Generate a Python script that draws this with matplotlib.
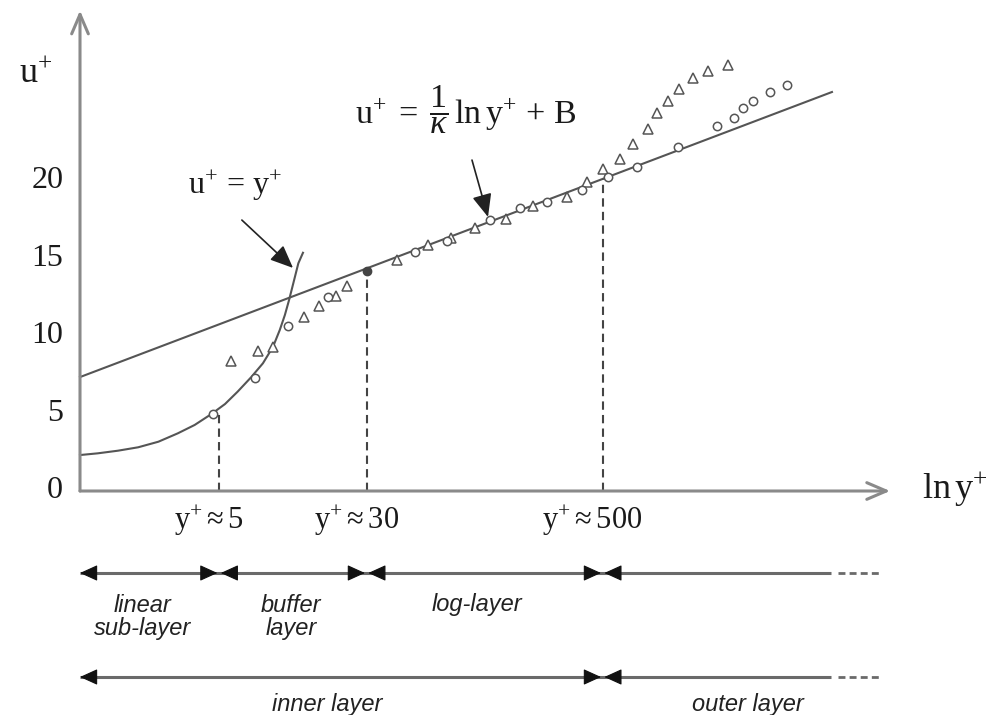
import numpy as np
import matplotlib
matplotlib.use("Agg")
import matplotlib.pyplot as plt

plt.rcParams['mathtext.fontset'] = 'custom'
plt.rcParams['mathtext.rm'] = 'Liberation Serif'
plt.rcParams['mathtext.it'] = 'Liberation Serif:italic'
plt.rcParams['font.family'] = ['Liberation Serif', 'DejaVu Serif']

# ---------------- data (x = ln y+, y = u+) ----------------
tri_x = [1.79, 2.11, 2.29, 2.66, 2.84, 3.04, 3.17, 3.76, 4.13, 4.40, 4.69, 5.05,
         5.37, 5.78, 6.01, 6.20, 6.41, 6.56, 6.74, 6.85, 6.98, 7.11, 7.27, 7.45, 7.69]
tri_u = [8.39, 9.03, 9.29, 11.23, 11.94, 12.58, 13.23, 14.90, 15.87, 16.32, 16.97, 17.55,
         18.39, 18.97, 19.94, 20.77, 21.42, 22.39, 23.35, 24.39, 25.16, 25.94, 26.65, 27.10, 27.48]

circ_x = [1.58, 2.08, 2.47, 2.94, 3.97, 4.35, 4.86, 5.22, 5.54, 5.96, 6.26, 6.61,
          7.09, 7.56, 7.76, 7.87, 7.98, 8.19, 8.39]
circ_u = [4.97, 7.29, 10.65, 12.52, 15.42, 16.13, 17.48, 18.26, 18.65, 19.42, 20.26, 20.90,
          22.19, 23.55, 24.06, 24.71, 25.16, 25.74, 26.19]

filled_x = [3.40]
filled_u = [14.19]

# viscous-sublayer curve u+ = y+ (as drawn)
lin_x = [0.0, 0.21, 0.45, 0.69, 0.93, 1.16, 1.36, 1.56, 1.72, 1.87, 2.03, 2.17,
         2.29, 2.37, 2.43, 2.48, 2.54, 2.59, 2.645]
lin_u = [2.32, 2.43, 2.60, 2.82, 3.18, 3.72, 4.26, 4.97, 5.61, 6.41, 7.34, 8.24,
         9.31, 10.39, 11.35, 12.32, 13.61, 14.69, 15.37]

# log law u+ = (1/kappa) ln y+ + B (as drawn)
kappa = 0.485
B = 7.35
log_x = [0.0, 8.92]

# region boundaries
bound_x = [1.65, 3.40, 6.20]
bound_top = [5.0, 14.1, 20.1]
bound_labels = [r'$\mathrm{y}^{+}\approx 5$', r'$\mathrm{y}^{+}\approx 30$', r'$\mathrm{y}^{+}\approx 500$']
y_ticks = [0, 5, 10, 15, 20]

# ---------------- figure ----------------
SX, SY = 84.3, 15.5          # px per unit
OX, OY = 80, 491             # pixel of origin
W, H = 997, 715
fig = plt.figure(figsize=(W / 100, H / 100), dpi=100)
ax = fig.add_axes([0, 0, 1, 1])
ax.set_xlim(-OX / SX, (W - OX) / SX)
ax.set_ylim((OY - H) / SY, OY / SY)
ax.axis('off')

axis_col = '#8a8a8a'
line_col = '#555555'
txt_col = '#1a1a1a'

# axes with arrows
ax.annotate('', xy=(0, 31.0), xytext=(0, 0),
            arrowprops=dict(arrowstyle='->,head_length=0.7,head_width=0.3', color=axis_col,
                            lw=2.2, shrinkA=0, shrinkB=0, mutation_scale=20))
ax.annotate('', xy=(9.61, 0), xytext=(0, 0),
            arrowprops=dict(arrowstyle='->,head_length=0.7,head_width=0.3', color=axis_col,
                            lw=2.2, shrinkA=0, shrinkB=0, mutation_scale=20))

# y tick labels
for t in y_ticks:
    ax.text(-0.2, t, str(t), ha='right', va='center', fontsize=23, color=txt_col)

ax.text(-0.53, 26.9, r'$\mathrm{u}^{+}$', ha='center', va='center', fontsize=26, color=txt_col)
ax.text(10.38, 0.1, r'$\mathrm{ln\,y}^{+}$', ha='center', va='center', fontsize=26, color=txt_col)

# curves
lx = np.array(log_x)
ax.plot(lx, lx / kappa + B, color=line_col, lw=1.5)
ax.plot(lin_x, lin_u, color=line_col, lw=1.5, solid_joinstyle='round')

# markers
ax.plot(tri_x, tri_u, linestyle='none', marker='^', ms=6.5, mfc='white', mec=line_col, mew=1.1)
ax.plot(circ_x, circ_u, linestyle='none', marker='o', ms=6, mfc='white', mec=line_col, mew=1.1)
ax.plot(filled_x, filled_u, linestyle='none', marker='o', ms=6, mfc='#444444', mec='#444444')

# dashed boundaries
for bx, bt, lab in zip(bound_x, bound_top, bound_labels):
    ax.plot([bx, bx], [0, bt], color='#444444', lw=1.5, linestyle=(0, (4, 2.5)))
    ax.text(bx - 0.12, -1.9, lab, ha='center', va='center', fontsize=22, color=txt_col)

# equation labels and arrows
ax.text(1.84, 19.7, r'$\mathrm{u}^{+}\,=\,\mathrm{y}^{+}$', ha='center', va='center',
        fontsize=23, color=txt_col)
ax.annotate('', xy=(2.527, 14.39), xytext=(1.92, 17.48),
            arrowprops=dict(arrowstyle='-|>,head_length=0.7,head_width=0.3', color='#222222',
                            lw=1.2, shrinkA=0, shrinkB=0, mutation_scale=20))
ax.text(4.58, 24.6, r'$\mathrm{u}^{+}\;=\;\dfrac{1}{\kappa}\,\mathrm{ln\,y}^{+}\,+\,\mathrm{B}$',
        ha='center', va='center', fontsize=24.5, color=txt_col)
ax.annotate('', xy=(4.84, 17.68), xytext=(4.65, 21.35),
            arrowprops=dict(arrowstyle='-|>,head_length=0.7,head_width=0.3', color='#222222',
                            lw=1.2, shrinkA=0, shrinkB=0, mutation_scale=20))

# layer arrows
row1 = (OY - 573) / SY
row2 = (OY - 677) / SY
arr_col = '#6a6a6a'
edges1 = [0.0] + bound_x + [8.91]
edges2 = [0.0, bound_x[2], 8.91]
HL = 0.18   # head length in x units


def head(tip, y, direction):
    ax.annotate('', xy=(tip, y), xytext=(tip + direction * HL, y),
                arrowprops=dict(arrowstyle='-|>,head_length=0.55,head_width=0.25',
                                color='#111111', lw=0.8, shrinkA=0, shrinkB=0,
                                mutation_scale=20))


for edges, r in ((edges1, row1), (edges2, row2)):
    ax.plot([edges[0], edges[-1]], [r, r], color=arr_col, lw=2.2, solid_capstyle='butt')
    for i in range(len(edges) - 1):
        head(edges[i] + (0.0 if i == 0 else 0.02), r, +1)
        if i < len(edges) - 2:
            head(edges[i + 1] - 0.02, r, -1)
    ax.plot([8.99, 9.48], [r, r], color=arr_col, lw=2.0, linestyle=(0, (2.5, 1.5)))

sans = dict(family=['Liberation Sans', 'DejaVu Sans'], style='italic', fontsize=17,
            color='#222222', ha='center', va='center', linespacing=1.05)
ax.text((143 - OX) / SX, (OY - 617) / SY, 'linear\nsub-layer', **sans)
ax.text((291 - OX) / SX, (OY - 617) / SY, 'buffer\nlayer', **sans)
ax.text((477 - OX) / SX, (OY - 604) / SY, 'log-layer', **sans)
ax.text((327 - OX) / SX, (OY - 704) / SY, 'inner layer', **sans)
ax.text((748 - OX) / SX, (OY - 704) / SY, 'outer layer', **sans)

fig.savefig('out.png', dpi=100)
